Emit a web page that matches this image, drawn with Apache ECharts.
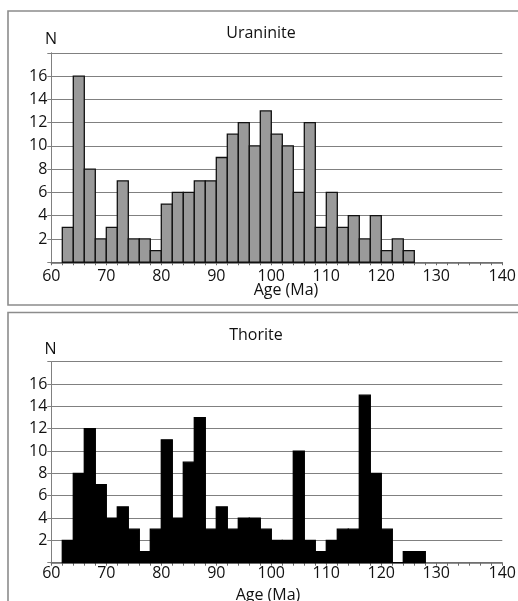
<!DOCTYPE html>
<html>
<head>
<meta charset="utf-8">
<script src="https://cdn.jsdelivr.net/npm/echarts@6/dist/echarts.min.js"></script>
<style>
html,body{margin:0;padding:0;background:#fff;}
#chart{width:518px;height:601px;}
</style>
</head>
<body>
<div id="chart"></div>
<script>
// ---- data ----
const uraniniteBinStarts = [62,64,66,68,70,72,74,76,78,80,82,84,86,88,90,92,94,96,98,100,102,104,106,108,110,112,114,116,118,120,122,124];
const uraniniteCounts    = [3,16,8,2,3,7,2,2,1,5,6,6,7,7,9,11,12,10,13,11,10,6,12,3,6,3,4,2,4,1,2,1];
const thoriteBinStarts   = [62,64,66,68,70,72,74,76,78,80,82,84,86,88,90,92,94,96,98,100,102,104,106,108,110,112,114,116,118,120,122,124,126];
const thoriteCounts      = [2,8,12,7,4,5,3,1,3,11,4,9,13,3,5,3,4,4,3,2,2,10,2,1,2,3,3,15,8,3,0,1,1];
const binWidth = 2;
const xTickLabels = ['60','70','80','90','100','110','120','130','140'];
const yTickLabels = ['2','4','6','8','10','12','14','16'];
const titles = ['Uraninite','Thorite'];
const xName = 'Age (Ma)';
const yName = 'N';

const FONT = 'Open Sans';
const TXT = '#111111';
const GRID_C = '#808080';

function toData(starts, counts){
  return starts.map((s,i)=>[s, s+binWidth, counts[i]]);
}
function makeRender(fill, stroke){
  return function(params, api){
    const p0 = api.coord([api.value(0), api.value(2)]);
    const p1 = api.coord([api.value(1), 0]);
    return {
      type:'rect',
      shape:{x:p0[0], y:p0[1], width:p1[0]-p0[0], height:p1[1]-p0[1]},
      style:{fill:fill, stroke:stroke, lineWidth:1.3}
    };
  };
}
function xAxisDef(gridIndex, margin){
  return {
    type:'value', gridIndex, min:60, max:142, interval:2,
    axisLine:{show:true, lineStyle:{color:'#6a6a6a', width:1.5}},
    axisTick:{show:true, length:3, lineStyle:{color:'#6a6a6a', width:1}},
    splitLine:{show:false},
    axisLabel:{
      show:true, margin, fontFamily:FONT, fontSize:16, color:TXT,
      showMinLabel:true, showMaxLabel:true, hideOverlap:false,
      formatter:function(v){
        if (v === 142) return xTickLabels[xTickLabels.length-1];
        if (v % 10 === 0 && v < 140) return String(v);
        return '';
      }
    }
  };
}
function yAxisDef(gridIndex){
  return {
    type:'value', gridIndex, min:0, max:18, interval:2,
    axisLine:{show:true, lineStyle:{color:GRID_C, width:1}},
    axisTick:{show:true, length:4, lineStyle:{color:GRID_C, width:1}},
    splitLine:{show:true, lineStyle:{color:GRID_C, width:1}},
    axisLabel:{
      show:true, margin:4, fontFamily:FONT, fontSize:16, color:TXT,
      showMinLabel:true, showMaxLabel:true,
      formatter:function(v){ return yTickLabels.indexOf(String(v))>=0 ? String(v) : ''; }
    }
  };
}

const chart = echarts.init(document.getElementById('chart'), null, {renderer:'canvas'});
function txt(x,y,text,size){
  return {type:'text', x, y, z:10, style:{text, fontFamily:FONT, fontSize:size, fill:TXT, textAlign:'center', textVerticalAlign:'middle'}};
}
chart.setOption({
  animation:false,
  backgroundColor:'#ffffff',
  grid:[
    {left:51.3, top:52.75, width:451, height:209.5, containLabel:false, outerBoundsMode:'none'},
    {left:51.3, top:361.7, width:451, height:201, containLabel:false, outerBoundsMode:'none'}
  ],
  xAxis:[xAxisDef(0,6), xAxisDef(1,3)],
  yAxis:[yAxisDef(0), yAxisDef(1)],
  series:[
    {type:'custom', xAxisIndex:0, yAxisIndex:0, data:toData(uraniniteBinStarts, uraniniteCounts),
     encode:{x:[0,1], y:2}, renderItem:makeRender('#9a9a9a','#111111'), clip:false},
    {type:'custom', xAxisIndex:1, yAxisIndex:1, data:toData(thoriteBinStarts, thoriteCounts),
     encode:{x:[0,1], y:2}, renderItem:makeRender('#000000','#000000'), clip:false}
  ],
  graphic:[
    {type:'rect', shape:{x:8, y:11, width:540, height:294}, style:{fill:null, stroke:'#8c8c8c', lineWidth:1.6}, silent:true},
    {type:'rect', shape:{x:8, y:312.5, width:540, height:320}, style:{fill:null, stroke:'#8c8c8c', lineWidth:1.6}, silent:true},
    txt(261, 33, titles[0], 16),
    txt(256, 335, titles[1], 16),
    txt(51, 39.5, yName, 16),
    txt(50.5, 349.5, yName, 16),
    txt(286, 290, xName, 16),
    txt(268, 595, xName, 16)
  ]
});
</script>
</body>
</html>
